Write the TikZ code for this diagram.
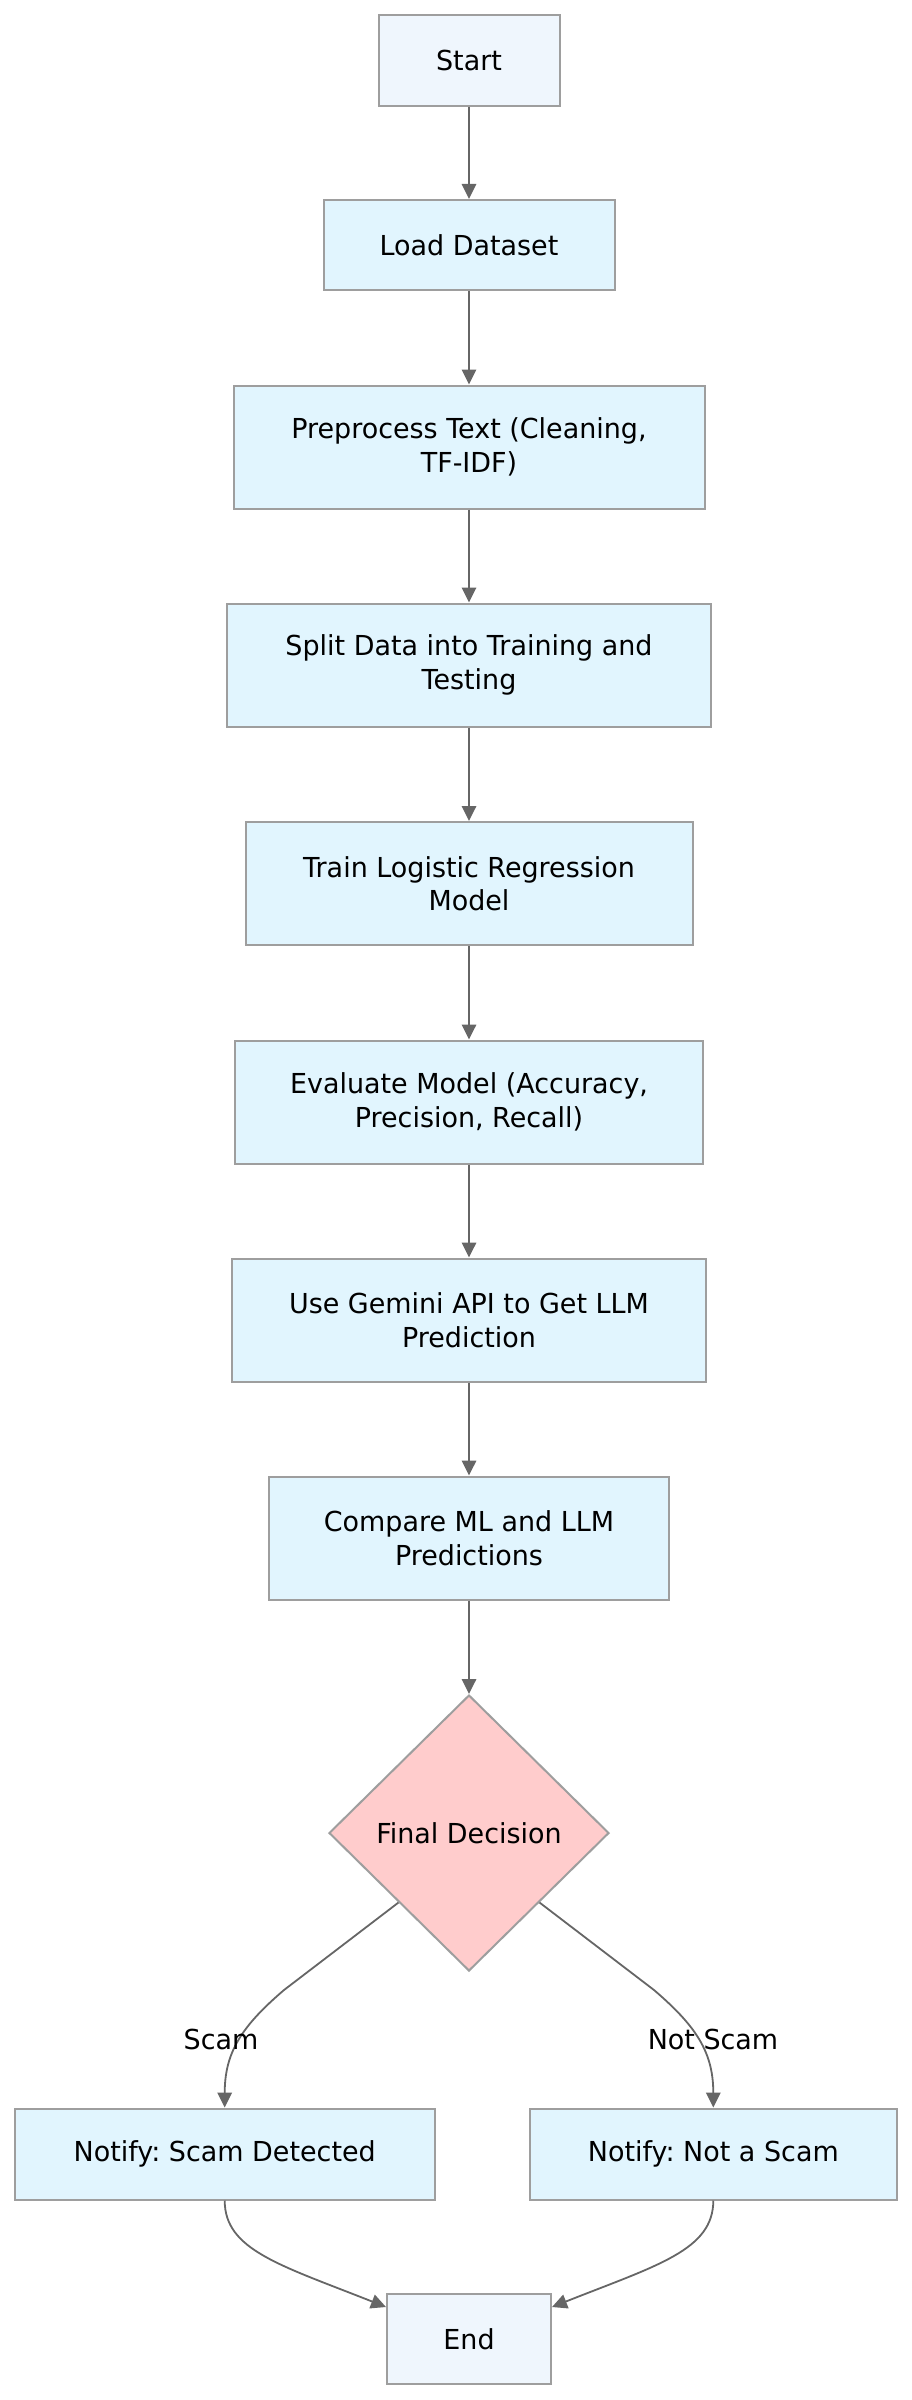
\documentclass[tikz,border=0pt]{standalone}
\usepackage{fontspec}
\setmainfont{DejaVu Sans}[FakeStretch=0.98]
\usetikzlibrary{arrows.meta,shapes.geometric}
\definecolor{boxfill}{HTML}{E1F5FE}
\definecolor{termfill}{HTML}{EFF6FD}
\definecolor{decfill}{HTML}{FFCCCC}
\definecolor{bordergray}{HTML}{9E9E9E}
\definecolor{arrowgray}{HTML}{666666}
\frenchspacing
\tikzset{
  base/.style={draw=bordergray, line width=2pt, inner sep=0pt, align=center,
    font=\fontsize{27.5pt}{33.5pt}\selectfont\frenchspacing, text=black},
  procbox/.style={base, rectangle, fill=boxfill},
  termbox/.style={base, rectangle, fill=termfill},
  decbox/.style={base, diamond, fill=decfill},
  arr/.style={draw=arrowgray, line width=1.8pt, -{Triangle[length=15pt,width=14.5pt]}},
  lbl/.style={inner sep=0pt, font=\fontsize{27.5pt}{33.5pt}\selectfont, text=black}
}
\begin{document}
\begin{tikzpicture}[x=1pt,y=-1pt]
\useasboundingbox (0,0) rectangle (912,2400);
\node[termbox, minimum width=181pt, minimum height=91pt] (start) at (469,60.5) {Start};
\node[procbox, minimum width=291pt, minimum height=90pt] (load) at (469,245) {Load Dataset};
\node[procbox, minimum width=471pt, minimum height=123pt] (pre) at (469,447) {Preprocess Text (Cleaning,\\TF-IDF)};
\node[procbox, minimum width=484pt, minimum height=123pt] (split) at (469,665) {Split Data into Training and\\Testing};
\node[procbox, minimum width=447pt, minimum height=123pt] (train) at (469,883.5) {Train Logistic Regression\\Model};
\node[procbox, minimum width=468pt, minimum height=123pt] (eval) at (469,1102) {Evaluate Model (Accuracy,\\Precision, Recall)};
\node[procbox, minimum width=474pt, minimum height=123pt] (gem) at (469,1320) {Use Gemini API to Get LLM\\Prediction};
\node[procbox, minimum width=400pt, minimum height=123pt] (cmp) at (469,1538) {Compare ML and LLM\\Predictions};
\node[decbox, minimum width=280pt, minimum height=276pt] (dec) at (469,1833) {Final Decision};
\node[procbox, minimum width=420pt, minimum height=91pt] (scam) at (224.7,2154) {Notify: Scam Detected};
\node[procbox, minimum width=367pt, minimum height=91pt] (notscam) at (713.3,2154) {Notify: Not a Scam};
\node[termbox, minimum width=164pt, minimum height=90pt] (fin) at (469,2339) {End};

\draw[arr] (start) -- (load);
\draw[arr] (load) -- (pre);
\draw[arr] (pre) -- (split);
\draw[arr] (split) -- (train);
\draw[arr] (train) -- (eval);
\draw[arr] (eval) -- (gem);
\draw[arr] (gem) -- (cmp);
\draw[arr] (cmp) -- (dec);
\draw[arr] (dec.south west) -- (284,1990) .. controls (242,2026) and (224.7,2052) .. (scam.north);
\draw[arr] (dec.south east) -- (654,1990) .. controls (696,2026) and (713.3,2052) .. (notscam.north);
\node[lbl] (lscam) at (221,2039) {Scam};
\node[lbl] (lnotscam) at (713,2039) {Not Scam};
\draw[arr] (scam.south) .. controls (224.7,2250) and (280,2265) .. ([yshift=-14pt]fin.north west);
\draw[arr] (notscam.south) .. controls (713.3,2250) and (658,2265) .. ([yshift=-14pt]fin.north east);
\end{tikzpicture}
\end{document}
